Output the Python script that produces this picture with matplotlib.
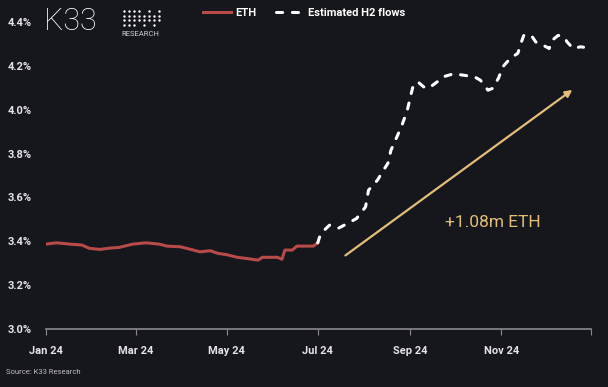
import matplotlib
matplotlib.use('Agg')
import matplotlib.pyplot as plt
import pandas as pd

# ETH 持仓占比 (上半年实际)
eth_dates = ['2024-01-01', '2024-01-08', '2024-01-17', '2024-01-25', '2024-01-30',
             '2024-02-06', '2024-02-13', '2024-02-19', '2024-02-28', '2024-03-08',
             '2024-03-17', '2024-03-22', '2024-03-31', '2024-04-07', '2024-04-13',
             '2024-04-20', '2024-04-25', '2024-05-01', '2024-05-08', '2024-05-15',
             '2024-05-22', '2024-05-25', '2024-06-04', '2024-06-07', '2024-06-09',
             '2024-06-14', '2024-06-17', '2024-06-28', '2024-07-01']
eth_vals = [3.387, 3.393, 3.387, 3.383, 3.368, 3.363, 3.369, 3.372, 3.387, 3.393,
            3.387, 3.378, 3.375, 3.363, 3.352, 3.357, 3.345, 3.339, 3.327, 3.321,
            3.314, 3.327, 3.327, 3.318, 3.360, 3.360, 3.378, 3.378, 3.393]

# 下半年估算
h2_dates = ['2024-07-01', '2024-07-03', '2024-07-09', '2024-07-15', '2024-07-23',
            '2024-07-27', '2024-08-02', '2024-08-04', '2024-08-10', '2024-08-14',
            '2024-08-17', '2024-08-19', '2024-08-22', '2024-08-26', '2024-08-30',
            '2024-09-01', '2024-09-03', '2024-09-06', '2024-09-10', '2024-09-13',
            '2024-09-19', '2024-09-23', '2024-09-30', '2024-10-07', '2024-10-14',
            '2024-10-18', '2024-10-23', '2024-10-26', '2024-10-30', '2024-11-02',
            '2024-11-07', '2024-11-12', '2024-11-14', '2024-11-16', '2024-11-21',
            '2024-11-24', '2024-11-29', '2024-12-03', '2024-12-05', '2024-12-09',
            '2024-12-13', '2024-12-15', '2024-12-19', '2024-12-24', '2024-12-26']
h2_vals = [3.393, 3.436, 3.474, 3.460, 3.489, 3.504, 3.557, 3.633, 3.679, 3.724,
           3.756, 3.815, 3.861, 3.922, 3.998, 4.058, 4.112, 4.127, 4.104, 4.097,
           4.127, 4.150, 4.164, 4.157, 4.150, 4.134, 4.089, 4.097, 4.143, 4.196,
           4.235, 4.257, 4.302, 4.339, 4.339, 4.309, 4.294, 4.279, 4.317, 4.339,
           4.331, 4.309, 4.279, 4.287, 4.285]

y_ticks = [3.0, 3.2, 3.4, 3.6, 3.8, 4.0, 4.2, 4.4]
x_ticks = ['2024-01-01', '2024-03-01', '2024-05-01', '2024-07-01', '2024-09-01', '2024-11-01', '2024-12-31']
x_labels = ['Jan 24', 'Mar 24', 'May 24', 'Jul 24', 'Sep 24', 'Nov 24', '']

arrow_start = ('2024-07-18', 3.328)
arrow_end = ('2024-12-20', 4.098)
arrow_text = '+1.08m ETH'

bg = '#16161d'
fg = '#e4e4e8'
plt.rcParams['font.family'] = ['Roboto', 'DejaVu Sans']

fig = plt.figure(figsize=(6.08, 3.87), dpi=100, facecolor=bg)
ax = fig.add_axes([46/608, 1-329/387, (591-46)/608, (329-22)/387])
ax.set_facecolor(bg)

ax.plot(pd.to_datetime(eth_dates), eth_vals, color='#b84a48', lw=2.2, label='ETH', zorder=3)
ax.plot(pd.to_datetime(h2_dates), h2_vals, color='white', lw=2.2, dashes=(2.0, 3.2),
        dash_capstyle='round', label='Estimated H2 flows', zorder=3)

ax.annotate('', xy=(pd.Timestamp(arrow_end[0]), arrow_end[1]),
            xytext=(pd.Timestamp(arrow_start[0]), arrow_start[1]),
            arrowprops=dict(arrowstyle='-|>', color='#e2be78', lw=1.6, mutation_scale=10))
ax.text(pd.Timestamp('2024-10-26'), 3.487, arrow_text, color='#e2be78', fontsize=12.5,
        ha='center', va='center')

ax.set_xlim(pd.Timestamp('2024-01-01'), pd.Timestamp('2024-12-31'))
ax.set_ylim(3.0, 4.4)
ax.set_yticks(y_ticks)
ax.set_yticklabels(['%.1f%%' % v for v in y_ticks], color=fg, fontsize=8, fontweight='bold')
ax.set_xticks(pd.to_datetime(x_ticks))
ax.set_xticklabels(x_labels, color=fg, fontsize=8, fontweight='bold')
ax.tick_params(axis='y', length=0, pad=10)
ax.tick_params(axis='x', length=4, color='#8a8a90', pad=8)

for s in ['top', 'right', 'left']:
    ax.spines[s].set_visible(False)
ax.spines['bottom'].set_color('#8a8a90')
ax.spines['bottom'].set_linewidth(1.2)

leg = fig.legend(loc='center', bbox_to_anchor=(0.5, 1-13/387), ncol=2, frameon=False,
                 fontsize=8, handlelength=2.6, columnspacing=1.8, handletextpad=0.3)
for t in leg.get_texts():
    t.set_color('white')
    t.set_fontweight('bold')

# logo
fig.text(44/608, 1-21/387, 'K33', color='white', fontsize=22, fontweight='light', va='center')
lax = fig.add_axes([121/608, 1-27/387, 40/608, 18/387])
lax.set_axis_off()
gx, gy = [], []
for c in range(8):
    for r in range(4):
        if c < 3 or r in (1, 2) or (r == 0 and c % 2 == 0) or (r == 3 and c % 2 == 1):
            gx.append(c)
            gy.append(r)
lax.scatter(gx, gy, s=3, color='white', linewidths=0)
lax.set_xlim(-0.5, 7.5)
lax.set_ylim(-0.5, 3.5)
fig.text(121/608, 1-34/387, 'RESEARCH', color='#cfcfd4', fontsize=5.5, va='center')

fig.text(6/608, 1-372/387, 'Source: K33 Research', color='#bdbdc2', fontsize=5.5, va='center')

fig.savefig('out.png', dpi=100, facecolor=bg)
